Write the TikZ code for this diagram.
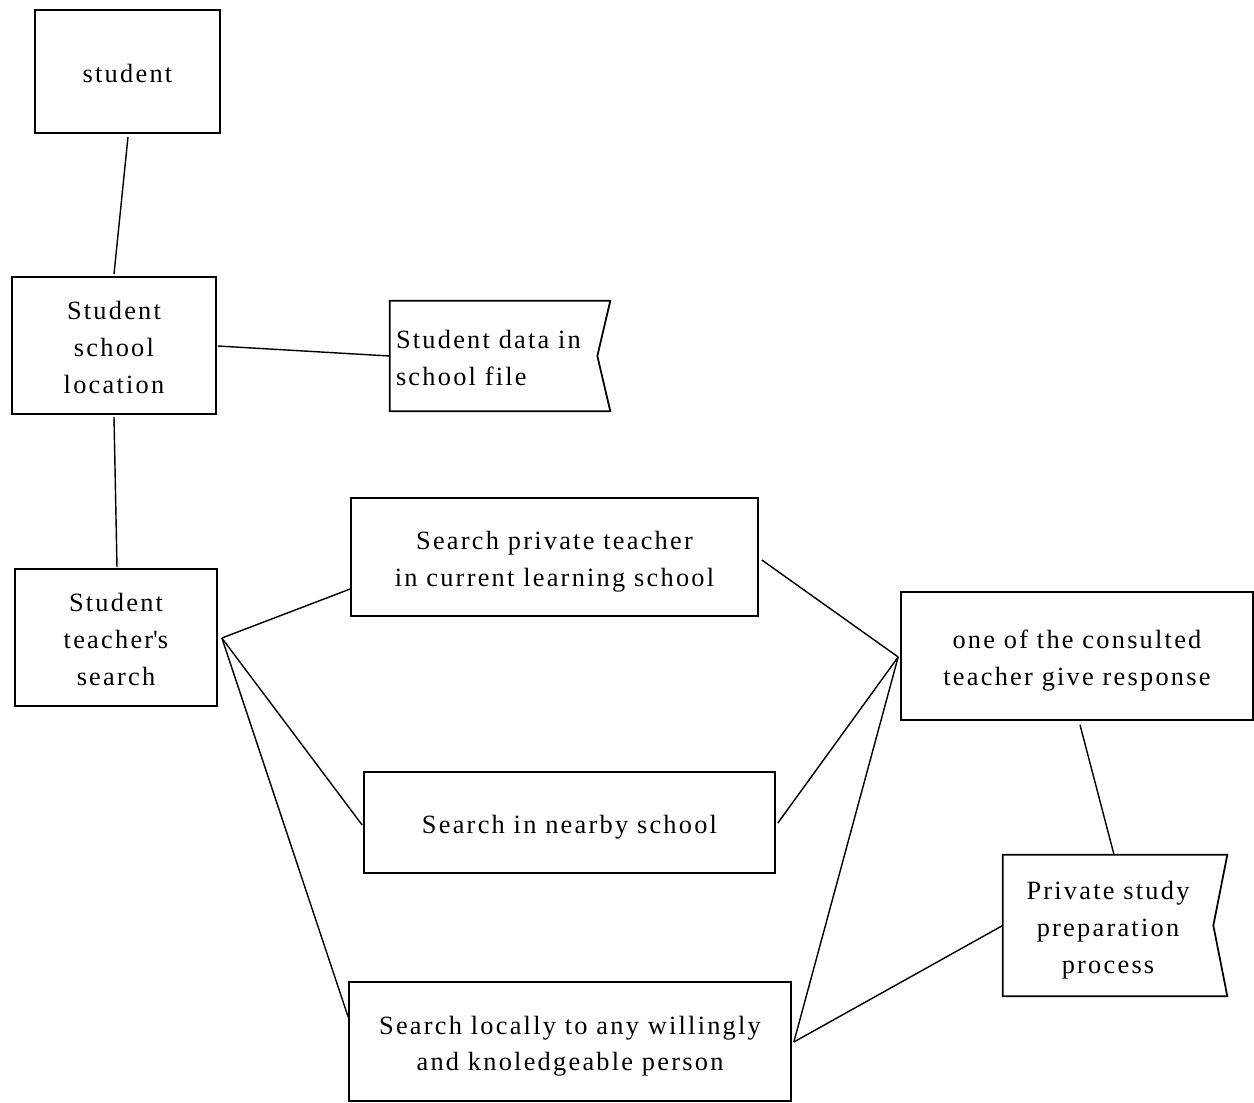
\documentclass[tikz,border=0pt]{standalone}
\usepackage{fontspec}
\setmainfont{Liberation Serif}[LetterSpace=8.5]
\usetikzlibrary{calc}
% struts that fix the height of the first line and the depth of the last one
\newcommand\topgap{\rule{0pt}{16pt}}
\newcommand\botgap{\rule[-3.5pt]{0pt}{3.5pt}}

\begin{document}
\begin{tikzpicture}[x=0.02cm,y=-0.02cm,
  txt/.style={font=\fontsize{15}{21}\selectfont},
  box/.style={txt,draw,line width=1pt,rectangle,inner sep=0pt,align=center},
  flagnode/.style={txt,rectangle,inner sep=0pt},
  flagline/.style={line width=1pt,line join=miter},
  link/.style={line width=0.8pt}]
\useasboundingbox (0,0) rectangle (1254,1102);

% process boxes
\node[box,minimum width=3.7cm,minimum height=2.46cm] (student) at (127.5,71.5) {\topgap student\botgap};
\node[box,minimum width=4.08cm,minimum height=2.74cm] (loc) at (114,345.5) {\topgap Student\\school\\location\botgap};
\node[box,minimum width=4.04cm,minimum height=2.74cm] (tsearch) at (116,637.5) {\topgap Student\\teacher\textquotesingle s\\search\botgap};
\node[box,minimum width=8.14cm,minimum height=2.36cm] (private) at (554.5,557) {\topgap Search private teacher\\in current learning school\botgap};
\node[box,minimum width=8.22cm,minimum height=2.02cm] (nearby) at (569.5,822.5) {\topgap Search in nearby school\botgap};
\node[box,minimum width=8.84cm,minimum height=2.38cm] (locally) at (570,1041.5) {\topgap Search locally to any willingly\\and knoledgeable person\botgap};
\node[box,minimum width=7.04cm,minimum height=2.56cm] (consulted) at (1077,656) {\topgap one of the consulted\\teacher give response\botgap};

% document (flag) shapes
\node[flagnode,text width=3.9cm,inner xsep=0.12cm,minimum height=2.2cm,align=left] (data) at (493.5,356) {\topgap Student data in\\school file\botgap};
\draw[flagline] (data.north west) -- ($(data.north east)+(13,0)$) -- (data.east)
  -- ($(data.south east)+(13,0)$) -- (data.south west) -- cycle;

\node[flagnode,minimum width=4.2cm,minimum height=2.82cm,align=center] (prep) at (1108,925.5) {\topgap Private study\\preparation\\process\botgap};
\draw[flagline] (prep.north west) -- ($(prep.north east)+(14,0)$) -- (prep.east)
  -- ($(prep.south east)+(14,0)$) -- (prep.south west) -- cycle;

% junction points
\coordinate (fan) at ($(tsearch.east)+(4,0.5)$);
\coordinate (join) at ($(consulted.west)+(-2,1)$);
\coordinate (lout) at ($(locally.east)+(2,0.5)$);

% connectors
\draw[link] ($(student.south)+(0.5,3)$) -- ($(loc.north)+(0,-2)$);
\draw[link] ($(loc.east)+(1,0.5)$) -- (data.west);
\draw[link] ($(loc.south)+(0,2)$) -- ($(tsearch.north)+(1,-1)$);
\draw[link] (fan) -- ($(private.west)+(0,32)$);
\draw[link] (fan) -- ($(nearby.west)+(-1,2.5)$);
\draw[link] (fan) -- ($(locally.west)+(0,-24.5)$);
\draw[link] ($(private.east)+(3,3)$) -- (join);
\draw[link] ($(nearby.east)+(2,0.5)$) -- (join);
\draw[link] (lout) -- (join);
\draw[link] ($(consulted.south)+(3,4)$) -- ($(prep.north)+(6,0)$);
\draw[link] (lout) -- (prep.west);
\end{tikzpicture}
\end{document}
